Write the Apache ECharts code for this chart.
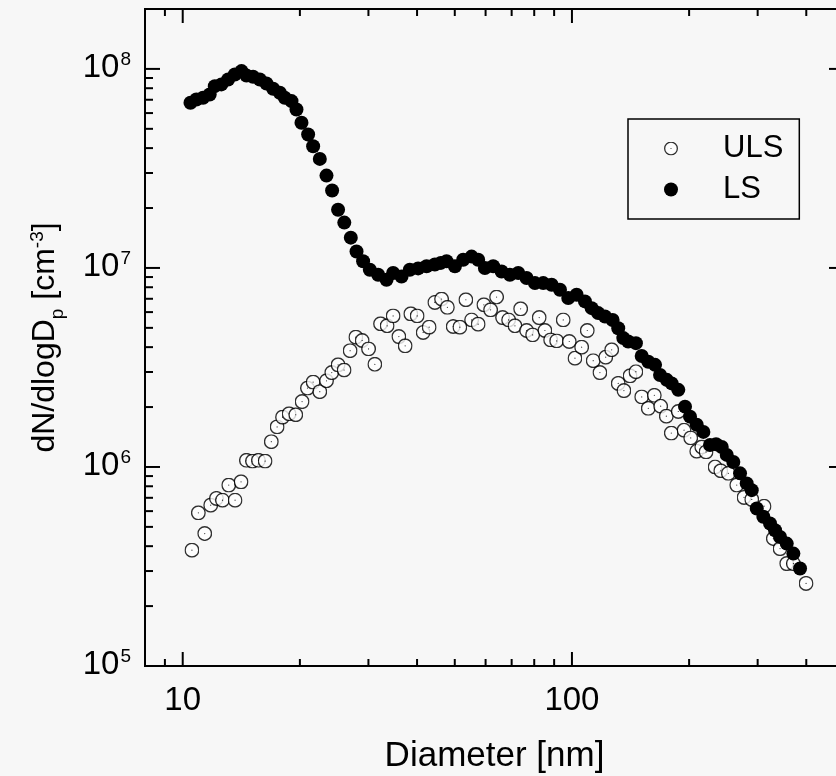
<!DOCTYPE html>
<html>
<head>
<meta charset="utf-8">
<script src="https://cdn.jsdelivr.net/npm/echarts@6/dist/echarts.min.js"></script>
<style>
  html, body { margin: 0; padding: 0; background: #f7f7f7; }
  #chart { width: 836px; height: 776px; }
</style>
</head>
<body>
<div id="chart"></div>
<script>
// Particle number size distributions (dN/dlogDp) for the two samples.
const diameterLS = [10.47, 10.84, 11.28, 11.73, 12.09, 12.57, 13.08, 13.61, 14.16, 14.58,
  15.16, 15.78, 16.41, 17.07, 17.76, 18.29, 19.03, 19.60, 20.19, 21.0,
  21.63, 22.5, 23.41, 24.2, 25.07, 26.01, 27.03, 27.96, 29.07, 30.25,
  31.77, 33.39, 34.72, 36.49, 38.32, 40.26, 42.31, 44.44, 46.04, 47.63,
  50.04, 52.55, 55.23, 57.42, 59.75, 62.76, 65.96, 69.28, 72.78, 76.47,
  80.34, 84.39, 88.69, 93.16, 97.84, 102.8, 108.0, 112.4, 116.8, 121.6,
  127.2, 131.5, 135.5, 139.5, 146.0, 151.1, 157.1, 163.5, 168.4, 175.2,
  180.4, 187.6, 195.2, 201.1, 209.2, 217.6, 226.3, 234.6, 242.6, 249.9,
  259.8, 270.3, 281.2, 289.7, 298.4, 310.3, 322.8, 332.5, 342.5, 356.3,
  370.6, 385.5];
const countLS = [6.76e7, 7.02e7, 7.16e7, 7.44e7, 8.19e7, 8.36e7, 8.85e7, 9.38e7, 9.75e7, 9.27e7,
  9.14e7, 8.85e7, 8.45e7, 7.95e7, 7.59e7, 7.16e7, 6.89e7, 6.25e7, 5.36e7, 4.68e7,
  4.09e7, 3.53e7, 2.91e7, 2.45e7, 1.96e7, 1.69e7, 1.42e7, 1.21e7, 1.08e7, 9.79e6,
  9.24e6, 8.72e6, 9.43e6, 9.06e6, 9.79e6, 9.95e6, 1.02e7, 1.04e7, 1.06e7, 1.08e7,
  1.02e7, 1.10e7, 1.14e7, 1.10e7, 1.0e7, 1.02e7, 9.6e6, 9.24e6, 9.43e6, 8.90e6,
  8.39e6, 8.39e6, 8.23e6, 7.77e6, 7.06e6, 7.33e6, 6.79e6, 6.28e6, 5.93e6, 5.70e6,
  5.48e6, 4.98e6, 4.44e6, 4.27e6, 4.19e6, 3.61e6, 3.38e6, 3.26e6, 2.90e6, 2.74e6,
  2.63e6, 2.44e6, 2.01e6, 1.79e6, 1.63e6, 1.50e6, 1.29e6, 1.30e6, 1.26e6, 1.15e6,
  1.06e6, 9.29e5, 8.27e5, 7.65e5, 6.19e5, 5.62e5, 5.20e5, 4.81e5, 4.45e5, 4.12e5,
  3.67e5, 3.09e5];

const diameterULS = [10.56, 10.97, 11.39, 11.80, 12.21, 12.65, 13.13, 13.63, 14.12, 14.58,
  15.11, 15.65, 16.28, 16.89, 17.48, 18.05, 18.76, 19.52, 20.26, 20.92,
  21.63, 22.5, 23.41, 24.15, 25.07, 25.98, 26.92, 27.85, 28.91, 30.02,
  31.16, 32.23, 33.51, 34.72, 35.92, 37.28, 38.55, 40.02, 41.47, 42.97,
  44.44, 46.24, 47.86, 49.53, 51.53, 53.39, 55.23, 57.42, 59.39, 61.8,
  64.03, 66.35, 68.75, 71.38, 73.82, 76.47, 79.25, 82.39, 85.22, 88.16,
  91.35, 94.98, 98.42, 101.8, 105.9, 109.5, 113.4, 118.0, 122.1, 126.5,
  131.5, 136.0, 141.0, 146.0, 151.1, 157.1, 162.8, 169.0, 174.8, 180.0,
  187.6, 194.1, 201.9, 209.2, 215.5, 221.1, 233.2, 241.2, 252.3, 265.1,
  276.8, 289.7, 311.6, 329.2, 342.5, 356.3, 370.6, 399.5];
const countULS = [3.82e5, 5.88e5, 4.63e5, 6.43e5, 6.95e5, 6.81e5, 8.11e5, 6.81e5, 8.42e5, 1.08e6,
  1.07e6, 1.08e6, 1.07e6, 1.34e6, 1.59e6, 1.78e6, 1.85e6, 1.83e6, 2.13e6, 2.49e6,
  2.67e6, 2.39e6, 2.71e6, 2.98e6, 3.26e6, 3.07e6, 3.84e6, 4.49e6, 4.32e6, 3.92e6,
  3.28e6, 5.24e6, 5.12e6, 5.74e6, 4.52e6, 4.06e6, 5.88e6, 5.74e6, 4.74e6, 5.04e6,
  6.71e6, 6.98e6, 6.34e6, 5.08e6, 5.04e6, 6.92e6, 5.48e6, 5.22e6, 6.53e6, 6.16e6,
  7.14e6, 5.63e6, 5.48e6, 5.12e6, 6.23e6, 4.85e6, 4.61e6, 5.63e6, 4.85e6, 4.35e6,
  4.30e6, 5.48e6, 4.27e6, 3.52e6, 4.00e6, 4.85e6, 3.42e6, 2.98e6, 3.56e6, 3.88e6,
  2.63e6, 2.42e6, 2.87e6, 3.01e6, 2.25e6, 1.97e6, 2.29e6, 2.02e6, 1.80e6, 1.48e6,
  1.90e6, 1.53e6, 1.40e6, 1.20e6, 1.26e6, 1.19e6, 1.00e6, 9.57e5, 9.29e5, 8.11e5,
  7.03e5, 6.87e5, 6.35e5, 4.37e5, 3.89e5, 3.27e5, 3.27e5, 2.60e5];

// Axis ranges and tick positions
const xRange = [8, 500];
const yRange = [1e5, 2e8];
const xMajorTicks = [10, 100];
const xMinorTicks = [9, 20, 30, 40, 50, 60, 70, 80, 90, 200, 300, 400];
const yMajorTicks = [1e5, 1e6, 1e7, 1e8];
const yMinorTicks = [2e5, 3e5, 4e5, 5e5, 6e5, 7e5, 8e5, 9e5,
  2e6, 3e6, 4e6, 5e6, 6e6, 7e6, 8e6, 9e6,
  2e7, 3e7, 4e7, 5e7, 6e7, 7e7, 8e7, 9e7];
const xTickLabels = { 10: '10', 100: '100' };
const yTickExponents = { 1e5: '5', 1e6: '6', 1e7: '7', 1e8: '8' };

const FONT = 'Liberation Sans, Arial, sans-serif';

// Open circle with a centre dot
const openCircle = 'image://data:image/svg+xml;charset=utf-8,' + encodeURIComponent(
  "<svg xmlns='http://www.w3.org/2000/svg' width='30' height='30' viewBox='0 0 30 30'>" +
  "<circle cx='15' cy='15' r='13.6' fill='#ffffff' stroke='#000000' stroke-width='2.8'/>" +
  "<circle cx='15' cy='15' r='1.2' fill='#000000'/></svg>");

function isDecade(v) {
  const e = Math.log10(v);
  return Math.abs(e - Math.round(e)) < 1e-6;
}

// Inward ticks on both opposite frame edges
function tickSeries(values, dir, len) {
  return {
    type: 'custom',
    silent: true,
    clip: false,
    z: 5,
    data: values.map(v => dir === 'x' ? [v, yRange[0]] : [xRange[0], v]),
    renderItem: function (params, api) {
      const cs = params.coordSys;
      const p = api.coord([api.value(0), api.value(1)]);
      const style = { stroke: '#000', lineWidth: 2 };
      if (dir === 'x') {
        const yb = cs.y + cs.height, yt = cs.y;
        return { type: 'group', children: [
          { type: 'line', shape: { x1: p[0], y1: yb, x2: p[0], y2: yb - len }, style: style },
          { type: 'line', shape: { x1: p[0], y1: yt, x2: p[0], y2: yt + len }, style: style }
        ] };
      }
      const xl = cs.x, xr = cs.x + cs.width;
      return { type: 'group', children: [
        { type: 'line', shape: { x1: xl, y1: p[1], x2: xl + len, y2: p[1] }, style: style },
        { type: 'line', shape: { x1: xr, y1: p[1], x2: xr - len, y2: p[1] }, style: style }
      ] };
    }
  };
}

const chart = echarts.init(document.getElementById('chart'), null, { renderer: 'canvas' });
chart.setOption({
  animation: false,
  backgroundColor: '#f7f7f7',
  textStyle: { fontFamily: FONT, color: '#000' },
  grid: {
    left: 145, width: 699, top: 9, height: 657,
    outerBoundsMode: 'none',
    containLabel: false,
    show: true, borderColor: '#000', borderWidth: 2, backgroundColor: 'transparent'
  },
  legend: {
    data: ['ULS', 'LS'],
    orient: 'vertical',
    left: 628, top: 119,
    padding: [14, 16, 14, 36],
    itemGap: 10,
    itemWidth: 14, itemHeight: 14,
    borderColor: '#000', borderWidth: 1.5,
    backgroundColor: 'transparent',
    textStyle: { fontFamily: FONT, fontSize: 31, color: '#000', lineHeight: 30, padding: [0, 0, 0, 40] }
  },
  xAxis: {
    type: 'log', logBase: 10, min: xRange[0], max: xRange[1],
    name: 'Diameter [nm]', nameLocation: 'middle', nameGap: 73,
    nameTextStyle: { fontFamily: FONT, fontSize: 35, color: '#000' },
    axisLine: { show: false },
    axisTick: { show: false },
    splitLine: { show: false },
    axisLabel: {
      margin: 18, fontFamily: FONT, fontSize: 33, color: '#000',
      formatter: v => isDecade(v) ? (xTickLabels[Math.round(v)] || '') : ''
    }
  },
  yAxis: {
    type: 'log', logBase: 10, min: yRange[0], max: yRange[1],
    name: '{a|dN/dlogD}{sub|p}{a| [cm}{sup|-3}{a|]}',
    nameLocation: 'middle', nameGap: 84, nameRotate: 90,
    nameTextStyle: {
      rich: {
        a: { fontFamily: FONT, fontSize: 32, color: '#000', verticalAlign: 'bottom' },
        sub: { fontFamily: FONT, fontSize: 19, color: '#000', verticalAlign: 'bottom', padding: [0, 0, -6, 0] },
        sup: { fontFamily: FONT, fontSize: 19, color: '#000', verticalAlign: 'bottom', padding: [0, 0, 14, 0] }
      }
    },
    axisLine: { show: false },
    axisTick: { show: false },
    splitLine: { show: false },
    axisLabel: {
      margin: 14,
      formatter: v => {
        if (!isDecade(v)) return '';
        const key = Math.pow(10, Math.round(Math.log10(v)));
        return '{b|10}{s|' + (yTickExponents[key] || '') + '}';
      },
      rich: {
        b: { fontFamily: FONT, fontSize: 33, color: '#000', verticalAlign: 'bottom', padding: [0, 0, 4, 0] },
        s: { fontFamily: FONT, fontSize: 19, color: '#000', verticalAlign: 'bottom', padding: [0, 0, 19, 1] }
      }
    }
  },
  series: [
    tickSeries(xMajorTicks, 'x', 14),
    tickSeries(xMinorTicks, 'x', 7),
    tickSeries(yMajorTicks, 'y', 15),
    tickSeries(yMinorTicks, 'y', 8),
    {
      name: 'ULS', type: 'scatter', symbol: openCircle, symbolSize: 15, z: 3,
      data: diameterULS.map((d, i) => [d, countULS[i]])
    },
    {
      name: 'LS', type: 'scatter', symbol: 'circle', symbolSize: 14, z: 4,
      itemStyle: { color: '#000', opacity: 1 },
      data: diameterLS.map((d, i) => [d, countLS[i]])
    }
  ]
});
</script>
</body>
</html>
